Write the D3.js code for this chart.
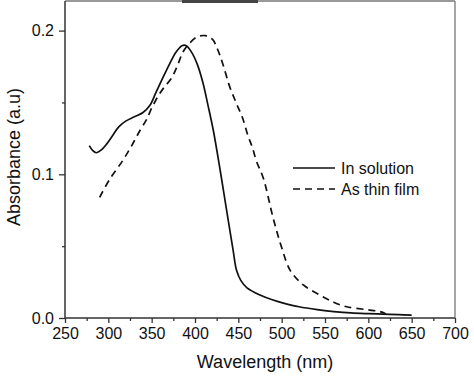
<!DOCTYPE html>
<html>
<head>
<meta charset="utf-8">
<script src="https://cdn.jsdelivr.net/npm/d3@7"></script>
<style>
  body { margin: 0; background: #fff; }
  text { font-family: "Liberation Sans", Arial, sans-serif; fill: #111; }
</style>
</head>
<body>
<div id="chart"></div>
<script>
// Absorbance spectra
const solutionWl = [278, 282, 286, 292, 298, 305, 312, 320, 330, 340, 348, 355, 362, 370, 378, 385, 390, 396, 403, 409, 415, 421, 429, 437, 444, 448, 453, 460, 475, 490, 502, 520, 541, 560, 580, 600, 617, 635, 650];
const solutionAbs = [0.120, 0.1165, 0.115, 0.117, 0.121, 0.127, 0.133, 0.137, 0.140, 0.143, 0.148, 0.157, 0.166, 0.176, 0.185, 0.1895, 0.1895, 0.185, 0.176, 0.164, 0.148, 0.131, 0.103, 0.073, 0.047, 0.033, 0.026, 0.021, 0.016, 0.0125, 0.0104, 0.0078, 0.0058, 0.0045, 0.0035, 0.003, 0.0027, 0.0023, 0.002];

const filmWl = [290, 302, 316, 327, 337, 344, 350, 358, 365, 373, 380, 386, 392, 402, 412, 420, 426, 432, 440, 448, 455, 461, 466, 471, 479, 490, 500, 510, 525, 544, 560, 575, 598, 613, 620];
const filmAbs = [0.084, 0.097, 0.109, 0.120, 0.131, 0.138, 0.146, 0.155, 0.161, 0.167, 0.176, 0.185, 0.190, 0.1955, 0.1965, 0.194, 0.187, 0.177, 0.161, 0.149, 0.139, 0.127, 0.119, 0.109, 0.097, 0.070, 0.049, 0.033, 0.023, 0.016, 0.011, 0.0078, 0.0058, 0.0045, 0.003];

const xTicks = [250, 300, 350, 400, 450, 500, 550, 600, 650, 700];
const xMinor = [275, 325, 375, 425, 475, 525, 575, 625, 675];
const yTicks = [0.0, 0.1, 0.2];
const yMinor = [0.05, 0.15];
const seriesNames = ["In solution", "As thin film"];

const width = 474, height = 385;
const margin = { top: 1, right: 19, bottom: 67, left: 65 };
const plotW = width - margin.left - margin.right,
      plotH = height - margin.top - margin.bottom;

const svg = d3.select("#chart").append("svg")
  .attr("width", width)
  .attr("height", height);

const g = svg.append("g")
  .attr("transform", `translate(${margin.left},${margin.top})`);

const x = d3.scaleLinear().domain([250, 700]).range([0, plotW]);
const y = d3.scaleLinear().domain([0, 0.2206]).range([plotH, 0]);

// frame (top and right are lighter, like the scan)
g.append("line").attr("x1", 0).attr("x2", plotW).attr("y1", 0).attr("y2", 0)
  .attr("stroke", "#999").attr("stroke-width", 2);
g.append("line").attr("x1", 117).attr("x2", 193).attr("y1", 0).attr("y2", 0)
  .attr("stroke", "#444").attr("stroke-width", 4);
g.append("line").attr("x1", plotW).attr("x2", plotW).attr("y1", 0).attr("y2", plotH)
  .attr("stroke", "#888").attr("stroke-width", 1.5);

// bottom axis
const xAxis = g.append("g")
  .attr("transform", `translate(0,${plotH})`)
  .call(d3.axisBottom(x).tickValues(xTicks).tickSize(5).tickPadding(5).tickFormat(d3.format("d")));
g.append("g")
  .attr("transform", `translate(0,${plotH})`)
  .call(d3.axisBottom(x).tickValues(xMinor).tickSize(3).tickFormat(""))
  .call(a => a.select(".domain").remove());

// left axis
const yAxis = g.append("g")
  .call(d3.axisLeft(y).tickValues(yTicks).tickSize(6).tickPadding(5).tickFormat(d3.format(".1f")));
g.append("g")
  .call(d3.axisLeft(y).tickValues(yMinor).tickSize(3).tickFormat(""))
  .call(a => a.select(".domain").remove());

g.selectAll(".domain").attr("stroke", "#333").attr("stroke-width", 1.5);
g.selectAll(".tick line").attr("stroke", "#333").attr("stroke-width", 1.3);
g.selectAll(".tick text").style("font-size", "16px")
  .style("font-family", "'Liberation Sans', Arial, sans-serif").attr("fill", "#111");
xAxis.select(".domain").attr("d", `M0,0H${plotW}`);
yAxis.select(".domain").attr("d", `M0,${plotH}V0`);

// curves
const line = d3.line()
  .x(d => x(d[0]))
  .y(d => y(d[1]))
  .curve(d3.curveCatmullRom.alpha(0.5));

const solution = solutionWl.map((w, i) => [w, solutionAbs[i]]);
const film = filmWl.map((w, i) => [w, filmAbs[i]]);

g.append("path").datum(solution)
  .attr("d", line)
  .attr("fill", "none")
  .attr("stroke", "#111")
  .attr("stroke-width", 1.7);

g.append("path").datum(film)
  .attr("d", line)
  .attr("fill", "none")
  .attr("stroke", "#111")
  .attr("stroke-width", 1.7)
  .attr("stroke-dasharray", "7,5");

// legend
const legend = svg.append("g").attr("transform", "translate(293,168)");
seriesNames.forEach((name, i) => {
  const row = legend.append("g").attr("transform", `translate(0,${i * 21})`);
  row.append("line")
    .attr("x1", 0).attr("x2", 42)
    .attr("stroke", "#111").attr("stroke-width", 1.7)
    .attr("stroke-dasharray", i === 1 ? "7,5" : null);
  row.append("text")
    .attr("x", 48).attr("y", 6)
    .style("font-size", "16px")
    .text(name);
});

// axis titles
svg.append("text")
  .attr("x", margin.left + plotW / 2 + 5)
  .attr("y", 368)
  .attr("text-anchor", "middle")
  .style("font-size", "18px")
  .text("Wavelength (nm)");

svg.append("text")
  .attr("transform", `translate(20,${157}) rotate(-90)`)
  .attr("text-anchor", "middle")
  .style("font-size", "18px")
  .text("Absorbance (a.u)");
</script>
</body>
</html>
